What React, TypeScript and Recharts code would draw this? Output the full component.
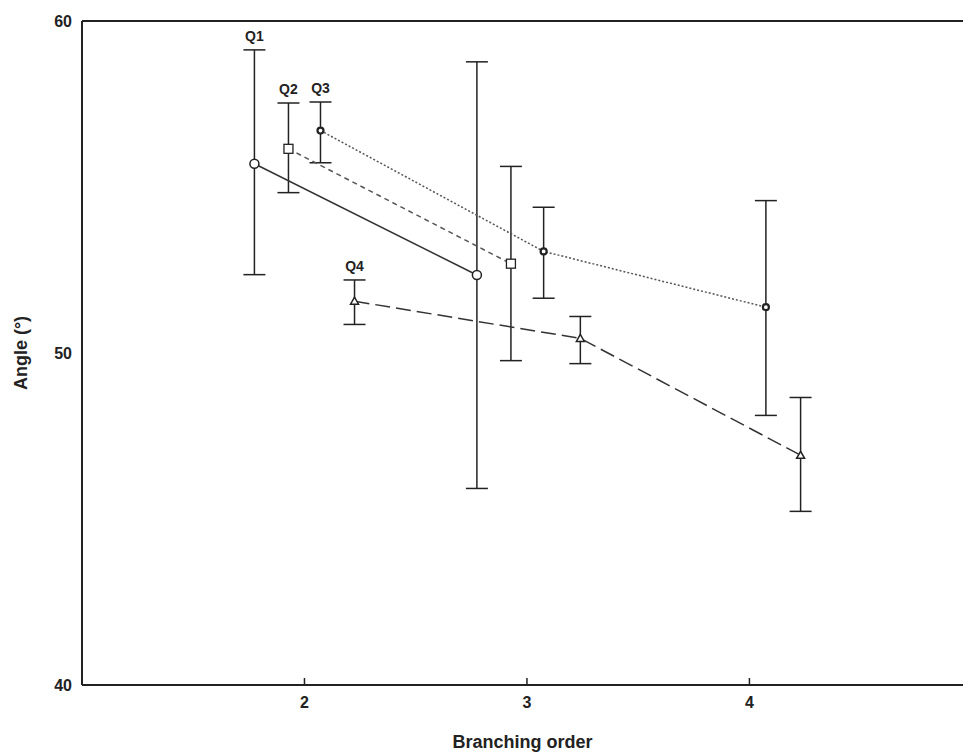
import React from 'react';
import {
  ComposedChart,
  Scatter,
  XAxis,
  YAxis,
  ErrorBar,
  ReferenceLine,
  ReferenceDot,
} from 'recharts';

// Branching order positions (offset per group in the original figure)
const q1X = [1.775, 2.775];
const q1Mean = [55.7, 52.35];
const q1Upper = [59.13, 58.77];
const q1Lower = [52.36, 45.92];

const q2X = [1.928, 2.928];
const q2Mean = [56.15, 52.69];
const q2Upper = [57.53, 55.62];
const q2Lower = [54.83, 49.77];

const q3X = [2.072, 3.075, 4.074];
const q3Mean = [56.7, 53.06, 51.38];
const q3Upper = [57.56, 54.39, 54.59];
const q3Lower = [55.73, 51.65, 48.12];

const q4X = [2.225, 3.24, 4.23];
const q4Mean = [51.56, 50.44, 46.92];
const q4Upper = [52.2, 51.1, 48.66];
const q4Lower = [50.86, 49.68, 45.23];

const xTicks = [2, 3, 4];
const yTicks = [40, 50, 60];
const groupLabels = ['Q1', 'Q2', 'Q3', 'Q4'];

const build = (xs: number[], m: number[], u: number[], l: number[]) =>
  xs.map((x, i) => ({ x, y: m[i], err: [m[i] - l[i], u[i] - m[i]] }));

const q1 = build(q1X, q1Mean, q1Upper, q1Lower);
const q2 = build(q2X, q2Mean, q2Upper, q2Lower);
const q3 = build(q3X, q3Mean, q3Upper, q3Lower);
const q4 = build(q4X, q4Mean, q4Upper, q4Lower);

const ink = '#222';
const font = '"Liberation Sans", Arial, sans-serif';

const CircleShape = (p: any) => (
  <circle cx={p.cx} cy={p.cy} r={4.5} fill="#fff" stroke={ink} strokeWidth={1.5} />
);
const SquareShape = (p: any) => (
  <rect x={p.cx - 4.5} y={p.cy - 4.5} width={9} height={9} fill="#fff" stroke={ink} strokeWidth={1.3} />
);
const DiamondShape = (p: any) => (
  <circle cx={p.cx} cy={p.cy} r={3} fill="#fff" stroke={ink} strokeWidth={2.2} />
);
const TriangleShape = (p: any) => (
  <polygon
    points={`${p.cx},${p.cy - 4} ${p.cx - 4},${p.cy + 3} ${p.cx + 4},${p.cy + 3}`}
    fill="#fff"
    stroke={ink}
    strokeWidth={1.5}
  />
);

const labelStyle = { fontSize: 14, fontWeight: 700, fill: ink, fontFamily: font };

export default function App() {
  const series = [
    { data: q1, shape: CircleShape, line: { stroke: '#333', strokeWidth: 1.5 } },
    { data: q2, shape: SquareShape, line: { stroke: '#555', strokeWidth: 1.5, strokeDasharray: '5 4' } },
    { data: q3, shape: DiamondShape, line: { stroke: '#555', strokeWidth: 1.5, strokeDasharray: '2 2' } },
    { data: q4, shape: TriangleShape, line: { stroke: '#333', strokeWidth: 1.5, strokeDasharray: '15 6' } },
  ];
  const uppers = [q1Upper, q2Upper, q3Upper, q4Upper];
  const xs = [q1X, q2X, q3X, q4X];
  return (
    <div style={{ position: 'absolute', left: 0, top: 0, background: '#fff' }}>
      <ComposedChart
        width={963}
        height={753}
        margin={{ top: 21, right: 0, bottom: 0, left: 0 }}
      >
        <XAxis
          dataKey="x"
          type="number"
          domain={[1, 4.96]}
          ticks={xTicks}
          allowDataOverflow
          height={68}
          axisLine={{ stroke: ink, strokeWidth: 2 }}
          tickLine={{ stroke: ink, strokeWidth: 1.5 }}
          tickSize={-7}
          tickMargin={19}
          tick={{ fill: ink, fontSize: 16, fontWeight: 700, fontFamily: font }}
          label={{
            value: 'Branching order',
            position: 'insideBottom',
            offset: 5,
            style: { fill: ink, fontSize: 18, fontWeight: 700, fontFamily: font },
          }}
        />
        <YAxis
          type="number"
          domain={[40, 60]}
          ticks={yTicks}
          width={82}
          axisLine={{ stroke: ink, strokeWidth: 2 }}
          tickLine={false}
          tickSize={8}
          tickMargin={2}
          tick={{ fill: ink, fontSize: 16, fontWeight: 700, fontFamily: font }}
          label={{
            value: 'Angle (°)',
            angle: -90,
            position: 'insideLeft',
            offset: 21,
            style: { textAnchor: 'middle', fill: ink, fontSize: 18, fontWeight: 700, fontFamily: font },
          }}
        />
        <ReferenceLine y={60} stroke={ink} strokeWidth={2} />
        {series.map((s, i) => (
          <Scatter
            key={i}
            data={s.data}
            dataKey="y"
            shape={s.shape}
            line={s.line}
            lineType="joint"
            isAnimationActive={false}
          >
            <ErrorBar dataKey="err" direction="y" width={11} stroke={ink} strokeWidth={1.5} />
          </Scatter>
        ))}
        {groupLabels.map((g, i) => (
          <ReferenceDot
            key={g}
            x={xs[i][0]}
            y={uppers[i][0]}
            r={0}
            fill="none"
            stroke="none"
            ifOverflow="visible"
            label={{ value: g, position: 'top', offset: 9, ...labelStyle }}
          />
        ))}
      </ComposedChart>
    </div>
  );
}
